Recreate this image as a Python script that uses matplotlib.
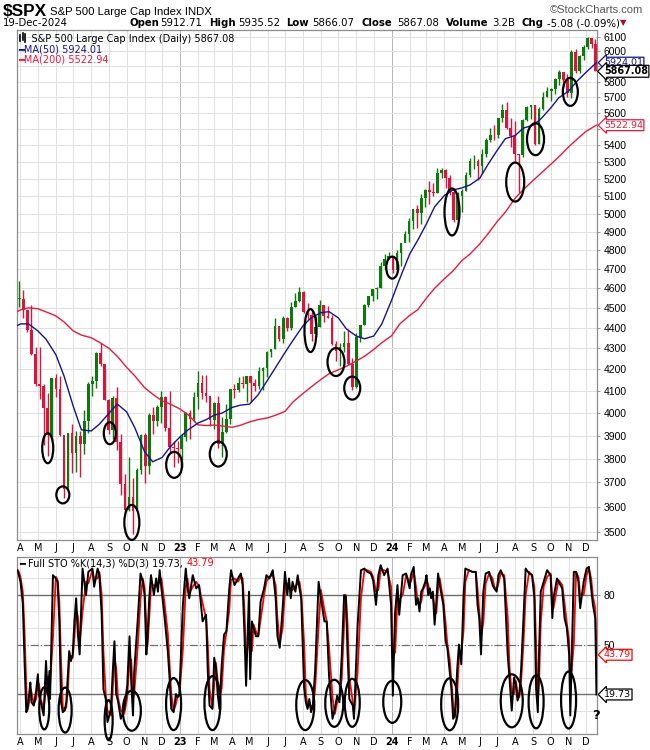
import numpy as np
import pandas as pd
import matplotlib
matplotlib.use("Agg")
import matplotlib.pyplot as plt
import matplotlib.dates as mdates
from matplotlib.patches import Ellipse
from matplotlib.lines import Line2D
from matplotlib.transforms import ScaledTranslation
from matplotlib.ticker import NullLocator

# ---------------- data ----------------
# weekly bars (week ending Friday); the last one is the short week to Thu 19-Dec-2024
week_end = list(pd.date_range("2022-04-01", "2024-12-13", freq="W-FRI")) + [pd.Timestamp("2024-12-19")]
prior_close = 4543  # close of the week before the first bar

week_high = [
    4637, 4593, 4471, 4513, 4308, 4307, 4132, 4090, 4158, 4177, 4168, 3837, 3913, 3950, 3919, 3918, 4013, 4140, 4167, 4281,
    4325, 4203, 4062, 4077, 4119, 3907, 3736, 3806, 3718, 3762, 3906, 3911, 4001, 4028, 4034, 4101, 4076, 4101, 3877, 3878,
    3907, 4004, 4015, 4095, 4195, 4176, 4176, 4068, 4048, 4078, 3981, 4040, 4110, 4133, 4164, 4170, 4170, 4170, 4155, 4212,
    4212, 4290, 4299, 4448, 4408, 4458, 4456, 4528, 4578, 4607, 4584, 4527, 4490, 4458, 4541, 4514, 4511, 4462, 4338, 4324,
    4385, 4393, 4255, 4374, 4415, 4520, 4560, 4597, 4609, 4739, 4778, 4793,
    4754, 4802, 4842, 4907, 4975, 5030, 5048, 5111, 5140, 5190, 5179, 5262, 5264, 5256, 5222, 5147, 5123, 5139, 5239, 5325,
    5342, 5316, 5376, 5447, 5506, 5523, 5570, 5655, 5669, 5566, 5552, 5350, 5564, 5643, 5651, 5651, 5636, 5733, 5767, 5757,
    5822, 5878, 5862, 5847, 6012, 6018, 5972, 6044, 6100, 6085, 6085]
week_low = [
    4507, 4450, 4381, 4267, 4124, 4063, 3859, 3811, 3875, 4073, 3900, 3636, 3705, 3738, 3742, 3721, 3819, 3910, 4079, 4112,
    4218, 4057, 3907, 3886, 3838, 3647, 3585, 3585, 3492, 3591, 3735, 3698, 3737, 3906, 3942, 3955, 3918, 3828, 3764, 3783,
    3794, 3877, 3885, 3960, 4018, 4061, 4049, 3944, 3928, 3847, 3809, 3911, 3951, 4069, 4095, 4113, 4049, 4048, 4099, 4110,
    4103, 4166, 4261, 4297, 4337, 4328, 4385, 4389, 4505, 4528, 4474, 4443, 4335, 4356, 4404, 4430, 4448, 4316, 4238, 4216,
    4283, 4223, 4104, 4114, 4329, 4414, 4504, 4537, 4546, 4600, 4699, 4751,
    4682, 4688, 4714, 4845, 4845, 4918, 4920, 4946, 5038, 5057, 5104, 5118, 5203, 5146, 5108, 4953, 4989, 5011, 5128, 5212,
    5257, 5191, 5235, 5330, 5420, 5432, 5447, 5541, 5497, 5390, 5306, 5119, 5328, 5547, 5560, 5402, 5406, 5615, 5703, 5674,
    5721, 5780, 5762, 5703, 5696, 5853, 5853, 5944, 6016, 6024, 5866]
week_close = [
    4545, 4488, 4392, 4272, 4132, 4123, 4024, 3901, 4158, 4109, 3901, 3675, 3912, 3825, 3899, 3863, 3962, 4130, 4145, 4280,
    4228, 4058, 3924, 4067, 3873, 3693, 3586, 3640, 3583, 3753, 3901, 3771, 3993, 3965, 4026, 4072, 3934, 3852, 3845, 3840,
    3895, 3999, 3973, 4071, 4136, 4090, 4079, 3970, 4046, 3862, 3917, 3971, 4109, 4105, 4138, 4133, 4169, 4136, 4124, 4192,
    4205, 4282, 4299, 4410, 4348, 4450, 4399, 4505, 4536, 4582, 4478, 4464, 4370, 4406, 4516, 4457, 4450, 4320, 4288, 4309,
    4327, 4224, 4117, 4358, 4415, 4514, 4559, 4595, 4604, 4719, 4755, 4770,
    4697, 4784, 4840, 4891, 4959, 5027, 5006, 5089, 5137, 5124, 5117, 5234, 5254, 5204, 5123, 4967, 5100, 5128, 5223, 5303,
    5305, 5278, 5347, 5432, 5465, 5460, 5567, 5615, 5505, 5459, 5346, 5344, 5554, 5634, 5648, 5408, 5626, 5703, 5738, 5751,
    5815, 5865, 5808, 5729, 5996, 5871, 5969, 6032, 6090, 6051, 5867]

# moving averages read on the 1st and 15th of each month
ma_dates = (["2022-03-26"]
            + [f"{p.year}-{p.month:02d}-{d:02d}" for p in pd.period_range("2022-04", "2024-11", freq="M") for d in (1, 15)]
            + ["2024-12-01", "2024-12-19"])
ma50 = [4411, 4420, 4420, 4385, 4345, 4270, 4170, 4030, 3925, 3920, 3950, 4000, 4040, 4005, 3935, 3830, 3787, 3805, 3850,
        3894, 3925, 3955, 3970, 3990, 4000, 4025, 4035, 4040, 4080, 4150, 4210, 4280, 4340, 4410, 4450, 4476, 4481, 4450, 4395,
        4360, 4347, 4360, 4420,
        4540, 4650, 4780, 4855, 4945, 5040, 5105, 5135, 5148, 5165, 5205, 5285, 5370, 5440, 5460, 5505, 5523, 5565, 5630, 5695,
        5738, 5800, 5860, 5924.01]
ma200 = [4481, 4490, 4500, 4496, 4480, 4460, 4430, 4385, 4365, 4352, 4330, 4300, 4262, 4210, 4170, 4115, 4085, 4055, 4040,
         4018, 3992, 3947, 3944, 3946, 3942, 3936, 3945, 3960, 3970, 3978, 3990, 4007, 4050, 4088, 4118, 4153, 4180, 4198, 4215,
         4240, 4262, 4295, 4328,
         4362, 4420, 4462, 4491, 4550, 4600, 4650, 4688, 4745, 4780, 4835, 4890, 4958, 5010, 5090, 5138, 5192, 5235, 5285, 5330,
         5390, 5435, 5485, 5522.94]

# Full stochastic %K(14,3) / %D(3)
sto_dates = [
    "2022-03-24", "2022-03-28", "2022-04-01", "2022-04-05", "2022-04-08", "2022-04-11", "2022-04-13", "2022-04-16", "2022-04-18", "2022-04-20",
    "2022-04-24", "2022-04-28", "2022-05-01", "2022-05-03", "2022-05-06", "2022-05-11", "2022-05-15", "2022-05-18", "2022-05-21", "2022-05-22",
    "2022-05-27", "2022-06-01", "2022-06-04", "2022-06-07", "2022-06-10", "2022-06-13", "2022-06-16", "2022-06-19", "2022-06-22", "2022-06-24",
    "2022-06-27", "2022-06-30", "2022-07-03", "2022-07-06", "2022-07-09", "2022-07-12", "2022-07-17", "2022-07-23", "2022-07-27", "2022-08-03",
    "2022-08-06", "2022-08-12", "2022-08-15", "2022-08-19", "2022-08-22", "2022-08-26", "2022-08-29", "2022-09-04", "2022-09-07", "2022-09-10",
    "2022-09-13", "2022-09-16", "2022-09-21", "2022-09-27", "2022-10-02", "2022-10-06", "2022-10-09", "2022-10-12", "2022-10-14", "2022-10-20",
    "2022-10-25", "2022-10-29", "2022-11-01", "2022-11-04", "2022-11-06", "2022-11-09", "2022-11-12", "2022-11-17", "2022-11-21", "2022-11-24",
    "2022-11-27", "2022-11-30", "2022-12-05", "2022-12-11", "2022-12-14", "2022-12-17", "2022-12-21", "2022-12-25", "2022-12-28", "2022-12-31",
    "2023-01-06", "2023-01-11", "2023-01-14", "2023-01-17", "2023-01-23", "2023-01-29", "2023-02-03", "2023-02-09", "2023-02-15", "2023-02-18",
    "2023-02-21", "2023-02-26", "2023-03-01", "2023-03-04", "2023-03-07", "2023-03-10", "2023-03-14", "2023-03-18", "2023-03-22", "2023-03-27",
    "2023-03-30", "2023-04-05", "2023-04-11", "2023-04-16", "2023-04-19", "2023-04-22", "2023-04-25", "2023-04-30", "2023-05-02", "2023-05-05",
    "2023-05-08", "2023-05-12", "2023-05-16", "2023-05-20", "2023-05-26", "2023-05-30", "2023-06-04", "2023-06-10", "2023-06-15", "2023-06-18",
    "2023-06-22", "2023-06-27", "2023-07-01", "2023-07-05", "2023-07-08", "2023-07-11", "2023-07-14", "2023-07-19", "2023-07-23", "2023-07-26",
    "2023-07-29", "2023-08-03", "2023-08-06", "2023-08-09", "2023-08-12", "2023-08-15", "2023-08-18", "2023-08-22", "2023-08-28", "2023-09-01",
    "2023-09-07", "2023-09-11", "2023-09-15", "2023-09-21", "2023-09-25", "2023-09-29", "2023-10-03", "2023-10-07", "2023-10-11", "2023-10-14",
    "2023-10-17", "2023-10-20", "2023-10-26", "2023-10-28", "2023-11-03", "2023-11-09", "2023-11-15", "2023-11-20", "2023-11-26", "2023-11-30",
    "2023-12-05", "2023-12-09", "2023-12-13", "2023-12-19", "2023-12-25", "2023-12-31",
    "2024-01-03", "2024-01-07", "2024-01-11", "2024-01-14", "2024-01-20", "2024-01-26", "2024-02-01", "2024-02-03", "2024-02-08", "2024-02-12",
    "2024-02-15", "2024-02-18", "2024-02-21", "2024-02-24", "2024-02-28", "2024-03-01", "2024-03-04", "2024-03-07", "2024-03-09", "2024-03-12",
    "2024-03-15", "2024-03-18", "2024-03-21", "2024-03-24", "2024-03-27", "2024-03-30", "2024-04-03", "2024-04-06", "2024-04-10", "2024-04-13",
    "2024-04-16", "2024-04-19", "2024-04-23", "2024-04-26", "2024-04-30", "2024-05-04", "2024-05-07", "2024-05-13", "2024-05-19", "2024-05-25",
    "2024-05-28", "2024-05-31", "2024-06-03", "2024-06-07", "2024-06-11", "2024-06-17", "2024-06-23", "2024-06-26", "2024-06-30", "2024-07-03",
    "2024-07-07", "2024-07-13", "2024-07-19", "2024-07-22", "2024-07-26", "2024-07-30", "2024-08-02", "2024-08-05", "2024-08-08", "2024-08-11",
    "2024-08-15", "2024-08-19", "2024-08-25", "2024-08-30", "2024-09-03", "2024-09-06", "2024-09-09", "2024-09-11", "2024-09-14", "2024-09-19",
    "2024-09-25", "2024-10-01", "2024-10-04", "2024-10-06", "2024-10-12", "2024-10-15", "2024-10-21", "2024-10-25", "2024-10-29", "2024-11-02",
    "2024-11-04", "2024-11-10", "2024-11-14", "2024-11-18", "2024-11-21", "2024-11-27", "2024-12-02", "2024-12-06", "2024-12-10", "2024-12-13",
    "2024-12-17", "2024-12-18", "2024-12-19"]
sto_k = [
    96, 94, 88, 75, 40, 9, 11, 20, 27, 15, 13, 22, 32, 19, 15, 7, 40, 20, 34, 17,
    92, 90, 88, 64, 15, 9, 10, 15, 33, 46, 40, 44, 64, 78, 56, 44, 96, 80, 94, 96,
    85, 96, 92, 68, 23, 17, 3, 11, 33, 52, 20, 16, 5, 11, 25, 55, 27, 7, 33, 64,
    93, 88, 80, 44, 54, 78, 92, 80, 90, 82, 95, 84, 68, 46, 30, 11, 9, 20, 18, 20,
    74, 96, 84, 78, 92, 84, 86, 64, 68, 33, 13, 11, 42, 36, 20, 11, 38, 56, 58, 84,
    95, 86, 90, 93, 86, 58, 25, 82, 29, 64, 60, 55, 55, 76, 84, 92, 90, 95, 78, 55,
    48, 72, 94, 80, 90, 78, 88, 82, 92, 84, 78, 24, 15, 11, 17, 9, 13, 34, 88, 78,
    64, 64, 31, 5, 11, 19, 15, 44, 80, 79, 44, 17, 13, 5, 60, 95, 96, 94, 93, 89,
    74, 92, 98, 92, 96, 74,
    19, 70, 86, 68, 92, 93, 84, 92, 97, 74, 78, 70, 82, 84, 88, 92, 80, 84, 78, 82,
    62, 76, 93, 86, 80, 74, 52, 48, 34, 23, 5, 7, 35, 50, 38, 80, 96, 95, 94, 94,
    74, 66, 44, 82, 93, 94, 86, 84, 82, 92, 95, 90, 44, 30, 10, 30, 26, 16, 20, 34,
    64, 96, 93, 92, 78, 23, 9, 44, 82, 88, 95, 92, 66, 78, 90, 88, 84, 66, 60, 44,
    7, 94, 94, 88, 72, 88, 96, 97, 84, 74, 66, 45, 19.73]
sto_d = [
    95, 95, 91, 82, 58, 25, 10, 15, 23, 21, 14, 17, 27, 26, 17, 11, 23, 30, 27, 26,
    54, 91, 89, 76, 40, 12, 10, 12, 24, 39, 43, 42, 54, 71, 67, 50, 70, 88, 87, 95,
    90, 90, 94, 80, 46, 20, 10, 7, 22, 42, 36, 18, 10, 8, 18, 40, 41, 17, 20, 48,
    78, 90, 84, 62, 49, 66, 85, 86, 85, 86, 88, 90, 76, 57, 38, 20, 10, 14, 19, 19,
    47, 85, 90, 81, 85, 88, 85, 75, 66, 50, 23, 12, 26, 39, 28, 15, 24, 47, 57, 71,
    89, 90, 88, 91, 90, 72, 42, 53, 55, 46, 62, 58, 55, 65, 80, 88, 91, 92, 86, 66,
    51, 60, 83, 87, 85, 84, 83, 85, 87, 88, 81, 51, 20, 13, 14, 13, 11, 23, 61, 83,
    71, 64, 48, 18, 8, 15, 17, 30, 62, 80, 62, 30, 15, 9, 32, 78, 95, 95, 94, 91,
    82, 83, 95, 95, 94, 85,
    46, 45, 78, 77, 80, 92, 88, 88, 94, 85, 76, 74, 76, 83, 86, 90, 86, 82, 81, 80,
    72, 69, 84, 90, 83, 77, 63, 50, 41, 28, 14, 6, 21, 42, 44, 59, 88, 95, 94, 94,
    84, 70, 55, 63, 87, 93, 90, 85, 83, 87, 93, 92, 67, 37, 20, 20, 28, 21, 18, 27,
    49, 80, 94, 92, 85, 50, 16, 26, 63, 85, 91, 93, 79, 72, 84, 89, 86, 75, 63, 52,
    26, 50, 94, 91, 80, 80, 92, 96, 90, 79, 72, 60, 43.79]

# hand-drawn circles around the lows
price_ring_dates = ["2022-05-18", "2022-06-13", "2022-09-02", "2022-10-10", "2022-12-22", "2023-03-08", "2023-08-14",
                    "2023-09-27", "2023-10-25", "2024-01-02", "2024-04-14", "2024-08-01", "2024-09-05", "2024-11-04"]
price_ring_levels = [3845, 3649, 3910, 3538, 3774, 3820, 4387, 4235, 4113, 4708, 5011, 5182, 5437, 5733]
sto_ring_dates = ["2022-05-12", "2022-06-17", "2022-08-31", "2022-10-10", "2022-12-21", "2023-02-26", "2023-08-05",
                  "2023-09-24", "2023-10-25", "2024-01-02", "2024-04-10", "2024-07-26", "2024-09-06", "2024-11-01"]
sto_ring_levels = [11.3, 10.3, 4.2, 9.9, 13.9, 14.5, 13.3, 14.4, 14.7, 15.3, 13.8, 15.9, 15.3, 16.4]

# ring sizes in pixels (width, height)
price_ring_w = [11, 13, 12, 15, 16, 17, 12, 17, 16, 12, 15, 18, 17, 15]
price_ring_h = [30, 17, 22, 35, 26, 25, 43, 28, 23, 22, 47, 39, 32, 28]
sto_ring_w = [10, 13, 8, 18, 15, 16, 18, 18, 15, 18, 17, 22, 15, 15]
sto_ring_h = [42, 45, 40, 40, 52, 54, 50, 47, 48, 42, 52, 53, 53, 57]

price_levels = list(range(3500, 6200, 100))

# ---------------- style ----------------
GREEN = "#0a7a0a"
RED = "#dc143c"
NAVY = "#14148f"
MA_RED = "#e8193c"
GRID = "#e0e0e0"
YEAR_GRID = "#b4b4b4"
SPINE = "#8c8c8c"

W, H = 650, 750


def fx(px):
    return px / W


def fy(py):
    return 1 - py / H


fig = plt.figure(figsize=(6.5, 7.5), dpi=100)
ax = fig.add_axes([fx(17), fy(540), fx(597) - fx(17), fy(30) - fy(540)])
ax2 = fig.add_axes([fx(17), fy(734), fx(597) - fx(17), fy(557) - fy(734)])

x0 = mdates.date2num(pd.Timestamp("2022-03-26"))
x1 = mdates.date2num(pd.Timestamp("2024-12-20"))
month_starts = pd.date_range("2022-04-01", "2024-12-01", freq="MS")
month_x = mdates.date2num(month_starts)
month_lbl = [(str(d.year)[2:] if d.month == 1 else d.strftime("%b")[0]) for d in month_starts]

for a in (ax, ax2):
    a.set_xlim(x0, x1)
    for d, mx in zip(month_starts, month_x):
        a.axvline(mx, color=YEAR_GRID if d.month == 1 else GRID, lw=0.7, zorder=0)
    a.set_xticks(month_x)
    a.set_xticklabels(month_lbl)
    a.tick_params(axis="x", length=0, pad=2, labelsize=7)
    for t, d in zip(a.get_xticklabels(), month_starts):
        if d.month == 1:
            t.set_fontweight("bold")
    for s in a.spines.values():
        s.set_color(SPINE)
        s.set_linewidth(0.9)
    a.yaxis.tick_right()
    a.tick_params(axis="y", length=2, width=0.6, color=SPINE, pad=3, labelsize=7)

# ---------------- price panel ----------------
ax.set_yscale("log")
ax.set_ylim(3469, 6145)
for p in price_levels:
    ax.axhline(p, color=GRID, lw=0.7, zorder=0)
ax.yaxis.set_minor_locator(NullLocator())
ax.set_yticks(price_levels)
ax.set_yticklabels(["" if p in (5500, 5900) else str(p) for p in price_levels], family="Liberation Sans", fontsize=7.5)

wx = mdates.date2num(week_end) - 2
c = np.array(week_close, float)
o = np.array([prior_close] + week_close[:-1], float)
cols = np.where(c >= o, GREEN, RED)
ax.vlines(wx, week_low, week_high, colors=cols, lw=1.0, zorder=2)
ax.bar(wx, np.maximum(np.abs(c - o), 5), bottom=np.minimum(o, c), width=4.6, color=cols, lw=0, zorder=2)

mx = mdates.date2num(pd.to_datetime(ma_dates))
ax.plot(mx, ma200, color=MA_RED, lw=1.0, zorder=3)
ax.plot(mx, ma50, color=NAVY, lw=1.0, zorder=3)


def ring(a, x, y, w, h):
    tr = fig.dpi_scale_trans + ScaledTranslation(x, y, a.transData)
    a.add_patch(Ellipse((0, 0), w / 100, h / 100, transform=tr, fill=False,
                        ec="black", lw=1.6, clip_on=False, zorder=6))


for d, lv, w, h in zip(price_ring_dates, price_ring_levels, price_ring_w, price_ring_h):
    ring(ax, mdates.date2num(pd.Timestamp(d)), lv, w, h)


def tag(a, val, text, color, bold=False, fs=6.8):
    a.annotate(text, xy=(1, val), xycoords=("axes fraction", "data"), xytext=(5, 0),
               textcoords="offset points", ha="left", va="center", fontsize=fs, color="black" if bold else color,
               fontweight="bold" if bold else "normal", annotation_clip=False, zorder=10,
               bbox=dict(boxstyle="larrow,pad=0.1", fc="white", ec=color, lw=0.9))


tag(ax, ma200[-1], "5522.94", MA_RED)
tag(ax, ma50[-1], "5924.01", NAVY)
tag(ax, week_close[-1], "5867.08", "black", bold=True, fs=6.9)

# legend inside the price panel
ax.text(0.004, 0.992, "\u2007\u2007S&P 500 Large Cap Index (Daily) 5867.08", transform=ax.transAxes,
        fontsize=7, va="top", ha="left")
for dx, (lo, hi) in zip((20, 22.5, 25), ((35, 41), (33, 40), (34, 42))):
    fig.add_artist(Line2D([fx(dx), fx(dx)], [fy(lo), fy(hi)], color="black", lw=1.2))
ax.text(0.002, 0.972, "\u2501MA(50) 5924.01", transform=ax.transAxes, fontsize=7, va="top", ha="left", color=NAVY)
ax.text(0.002, 0.951, "\u2501MA(200) 5522.94", transform=ax.transAxes, fontsize=7, va="top", ha="left", color=MA_RED)

# ---------------- stochastic panel ----------------
ax2.set_ylim(-4.2, 103)
for v in (10, 30, 40, 60, 70, 90):
    ax2.axhline(v, color=GRID, lw=0.7, zorder=0)
ax2.axhline(80, color="#6e6e6e", lw=1.0, zorder=1)
ax2.axhline(20, color="#6e6e6e", lw=1.0, zorder=1)
ax2.axhline(50, color="#6e6e6e", lw=0.9, ls="-.", zorder=1)
ax2.set_yticks([80, 50])
ax2.set_yticklabels(["80", "50"], family="Liberation Sans", fontsize=7.5)

sx = mdates.date2num(pd.to_datetime(sto_dates))
ax2.plot(sx, sto_d, color="red", lw=1.3, zorder=3)
ax2.plot(sx, sto_k, color="black", lw=1.4, zorder=4)

for d, lv, w, h in zip(sto_ring_dates, sto_ring_levels, sto_ring_w, sto_ring_h):
    ring(ax2, mdates.date2num(pd.Timestamp(d)), lv, w, h)

ax2.text(mdates.date2num(pd.Timestamp("2024-12-19")), 7, "?", fontsize=9.5, fontweight="bold",
         ha="center", va="center", zorder=7)

tag(ax2, sto_d[-1], "43.79", "red")
tag(ax2, sto_k[-1], "19.73", "black")

t1 = ax2.text(0.004, 0.992, "\u2501 Full STO %K(14,3) %D(3) 19.73, ", transform=ax2.transAxes,
              fontsize=7, va="top", ha="left")
ax2.annotate("43.79", xy=(1, 0), xycoords=t1, ha="left", va="bottom", fontsize=7, color="red")

# ---------------- header ----------------
fig.text(fx(3), fy(12), "$SPX", family="Liberation Sans", fontsize=12.4, fontweight="bold", va="center")
fig.text(fx(50), fy(12), "S&P 500 Large Cap Index INDX", family="Liberation Sans", fontsize=8.2, va="center")
fig.text(fx(643), fy(10), "\u00a9StockCharts.com", family="Liberation Sans", fontsize=8, va="center", ha="right", color="#555555")
fig.text(fx(3), fy(23), "19-Dec-2024", fontsize=7.3, va="center")
header = [("Open", 130, True), ("5912.71", 160, False), ("High", 209, True), ("5935.52", 238, False),
          ("Low", 286, True), ("5866.07", 312, False), ("Close", 361, True), ("5867.08", 397, False),
          ("Volume", 446, True), ("3.2B", 492, False), ("Chg", 522, True), ("-5.08 (-0.09%)", 547, False)]
for txt, px, bold in header:
    fig.text(fx(px), fy(23), txt, fontsize=7.3, va="center", fontweight="bold" if bold else "normal")
fig.text(fx(620), fy(23), "\u25bc", fontsize=6, va="center", color="#a0102a")

fig.savefig("out.png", dpi=100)
